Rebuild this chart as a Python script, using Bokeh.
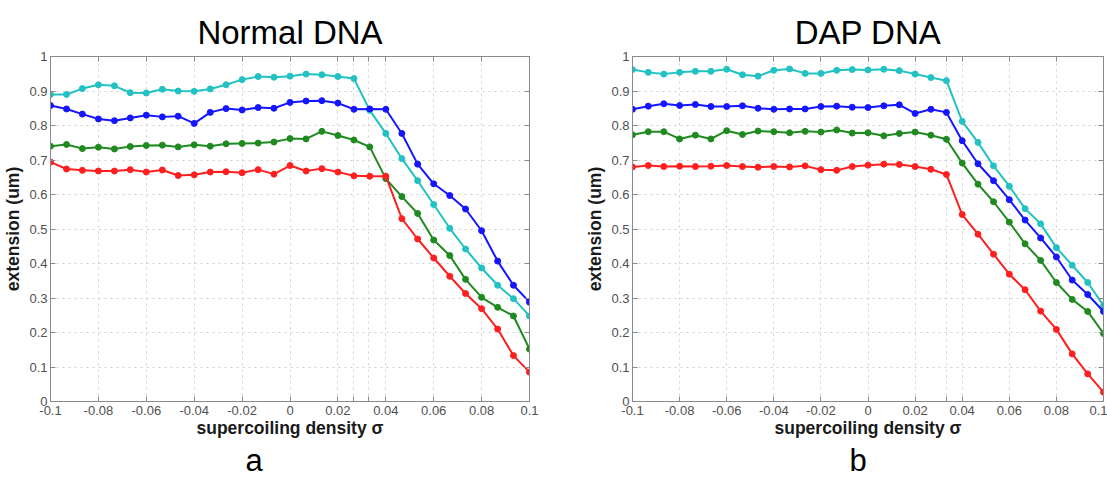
from bokeh.plotting import figure
from bokeh.layouts import row
from bokeh.models import Range1d, FixedTicker, LinearAxis, Title, CustomJSTickFormatter
from bokeh.embed import file_html
from bokeh.resources import INLINE

# ---------------- data ----------------
sigma = [-0.1, -0.0933, -0.0867, -0.08, -0.0733, -0.0667, -0.06, -0.0533, -0.0467, -0.04,
         -0.0333, -0.0267, -0.02, -0.0133, -0.0067, 0.0, 0.0067, 0.0133, 0.02, 0.0267,
         0.0333, 0.04, 0.0467, 0.0533, 0.06, 0.0667, 0.0733, 0.08, 0.0867, 0.0933, 0.1]

normal_cyan = [0.890, 0.890, 0.907, 0.918, 0.915, 0.895, 0.894, 0.905, 0.900, 0.899, 0.906, 0.918, 0.933, 0.942, 0.940, 0.943,
               0.949, 0.947, 0.942, 0.936, 0.844, 0.777, 0.704, 0.640, 0.571, 0.502, 0.442, 0.387, 0.337, 0.298, 0.248]
normal_blue = [0.858, 0.848, 0.833, 0.819, 0.814, 0.822, 0.830, 0.825, 0.827, 0.806, 0.838, 0.849, 0.845, 0.852, 0.850, 0.867,
               0.871, 0.872, 0.865, 0.847, 0.848, 0.847, 0.777, 0.688, 0.631, 0.597, 0.558, 0.495, 0.407, 0.337, 0.288]
normal_green = [0.740, 0.745, 0.733, 0.737, 0.732, 0.739, 0.742, 0.743, 0.738, 0.744, 0.740, 0.747, 0.748, 0.749, 0.752, 0.762,
                0.761, 0.783, 0.771, 0.758, 0.738, 0.646, 0.594, 0.545, 0.468, 0.423, 0.354, 0.302, 0.273, 0.248, 0.152]
normal_red = [0.694, 0.674, 0.670, 0.668, 0.668, 0.672, 0.665, 0.671, 0.655, 0.657, 0.665, 0.666, 0.663, 0.672, 0.659, 0.684,
              0.668, 0.675, 0.665, 0.654, 0.653, 0.653, 0.530, 0.471, 0.416, 0.363, 0.313, 0.269, 0.210, 0.133, 0.085]

dap_cyan = [0.962, 0.954, 0.949, 0.954, 0.957, 0.957, 0.963, 0.947, 0.943, 0.960, 0.964, 0.951, 0.951, 0.960, 0.962, 0.961,
            0.963, 0.959, 0.949, 0.939, 0.930, 0.812, 0.751, 0.683, 0.624, 0.559, 0.515, 0.446, 0.395, 0.345, 0.278]
dap_blue = [0.847, 0.856, 0.863, 0.858, 0.861, 0.855, 0.855, 0.857, 0.850, 0.847, 0.848, 0.848, 0.855, 0.856, 0.853, 0.852,
            0.857, 0.860, 0.835, 0.847, 0.838, 0.756, 0.689, 0.640, 0.585, 0.526, 0.474, 0.419, 0.352, 0.310, 0.261]
dap_green = [0.773, 0.782, 0.782, 0.761, 0.772, 0.761, 0.785, 0.774, 0.784, 0.782, 0.779, 0.783, 0.781, 0.787, 0.778, 0.779,
             0.770, 0.777, 0.781, 0.772, 0.760, 0.691, 0.630, 0.579, 0.520, 0.457, 0.409, 0.345, 0.296, 0.261, 0.197]
dap_red = [0.680, 0.684, 0.681, 0.682, 0.681, 0.682, 0.684, 0.681, 0.679, 0.681, 0.680, 0.683, 0.672, 0.670, 0.681, 0.685,
           0.688, 0.687, 0.681, 0.673, 0.658, 0.542, 0.485, 0.427, 0.369, 0.324, 0.262, 0.209, 0.138, 0.080, 0.027]

x_ticks = [-0.1, -0.08, -0.06, -0.04, -0.02, 0.0, 0.02, 0.04, 0.06, 0.08, 0.1]
x_tick_labels = ["-0.1", "-0.08", "-0.06", "-0.04", "-0.02", "0", "0.02", "0.04", "0.06", "0.08", "0.1"]
y_ticks = [0.0, 0.1, 0.2, 0.3, 0.4, 0.5, 0.6, 0.7, 0.8, 0.9, 1.0]
y_tick_labels = ["0", "0.1", "0.2", "0.3", "0.4", "0.5", "0.6", "0.7", "0.8", "0.9", "1"]
normal_extra_x = [0.0267, 0.0327]
dap_extra_x = [0.0333]

colors = ["#22c2c2", "#1515ff", "#1f8a1f", "#ff1f1f"]

AX = "#8a8a8a"
LBL = "#505050"


def style_ticks(ax):
    ax.axis_line_color = AX
    ax.major_tick_line_color = AX
    ax.minor_tick_line_color = AX
    ax.major_tick_in = 5
    ax.major_tick_out = 0
    ax.minor_tick_in = 5
    ax.minor_tick_out = 0


def make_panel(title, letter, series, extra_x, width, left, right, letter_offset):
    p = figure(width=width, height=477, output_backend="svg", toolbar_location=None,
               x_range=Range1d(-0.1, 0.1), y_range=Range1d(0, 1),
               min_border_left=left, min_border_right=right,
               min_border_top=56, min_border_bottom=74)
    p.title = Title(text=title, align="center", text_font="Liberation Sans",
                    text_font_size="33px", text_font_style="normal", text_color="#000000",
                    standoff=12)
    p.background_fill_color = "white"
    p.border_fill_color = "white"
    p.outline_line_color = AX
    p.outline_line_width = 1

    p.xaxis.ticker = FixedTicker(ticks=x_ticks, minor_ticks=extra_x)
    p.yaxis.ticker = FixedTicker(ticks=y_ticks, minor_ticks=[])
    p.xaxis.major_label_overrides = dict(zip(x_ticks, x_tick_labels))
    p.yaxis.major_label_overrides = dict(zip(y_ticks, y_tick_labels))

    for ax in (p.xaxis[0], p.yaxis[0]):
        style_ticks(ax)
        ax.major_label_text_font = "Liberation Sans"
        ax.major_label_text_font_size = "13px"
        ax.major_label_text_color = LBL
        ax.major_label_standoff = 4
        ax.axis_label_text_font = "Liberation Sans"
        ax.axis_label_text_font_size = "17.5px"
        ax.axis_label_text_font_style = "bold"
        ax.axis_label_text_color = "#1a1a1a"
    p.xaxis.axis_label = "supercoiling density σ"
    p.yaxis.axis_label = "extension (um)"
    p.xaxis.axis_label_standoff = 0
    p.yaxis.axis_label_standoff = 3
    p.yaxis.major_label_standoff = 3

    # box ticks (top / right) like MATLAB, without labels
    blank = CustomJSTickFormatter(code="return ''")
    top = LinearAxis(ticker=FixedTicker(ticks=x_ticks, minor_ticks=extra_x), formatter=blank)
    rgt = LinearAxis(ticker=FixedTicker(ticks=y_ticks, minor_ticks=[]), formatter=blank)
    for ax in (top, rgt):
        style_ticks(ax)
        ax.major_label_standoff = 0
        ax.major_label_text_font_size = "1px"
    p.add_layout(top, "above")
    p.add_layout(rgt, "right")

    p.xgrid.grid_line_color = "#cfcfcf"
    p.xgrid.grid_line_dash = "dotted"
    p.xgrid.minor_grid_line_color = "#cfcfcf"
    p.xgrid.minor_grid_line_dash = "dotted"
    p.ygrid.grid_line_color = "#cfcfcf"
    p.ygrid.grid_line_dash = "dotted"

    for ys, c in zip(series, colors):
        p.line(sigma, ys, line_color=c, line_width=2)
        p.scatter(sigma, ys, marker="circle", size=6, fill_color=c, line_color=c)

    # panel letter below the axis label
    p.add_layout(Title(text=letter, align="left", offset=letter_offset,
                       text_font="Liberation Sans", text_font_size="31px",
                       text_font_style="normal", text_color="#000000",
                       text_line_height=0.8, standoff=0), "below")
    return p


pa = make_panel("Normal DNA", "a", [normal_cyan, normal_blue, normal_green, normal_red],
                normal_extra_x, 560, 50, 31, 195)
pb = make_panel("DAP DNA", "b", [dap_cyan, dap_blue, dap_green, dap_red],
                dap_extra_x, 547, 72, 4, 217)

layout = row(pa, pb)
open("out.html", "w").write(file_html(layout, INLINE))
